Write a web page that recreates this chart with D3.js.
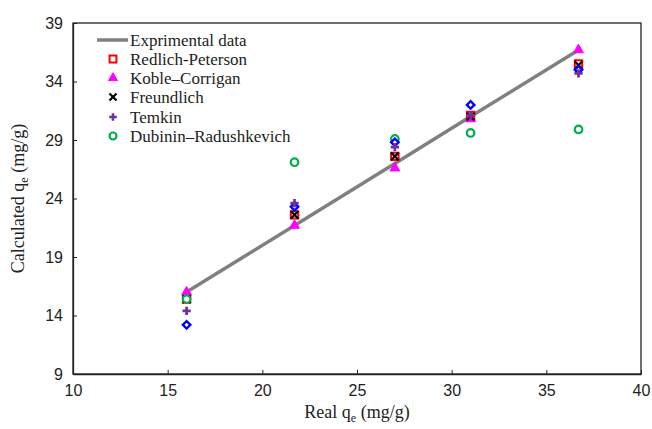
<!DOCTYPE html>
<html><head><meta charset="utf-8">
<script src="https://cdn.jsdelivr.net/npm/d3@7"></script>
<style>body{margin:0;background:#fff}</style>
</head><body>
<svg id="c" width="652" height="429"></svg>
<script>
const realQe = [16, 21.7, 27, 31, 36.7];
const experimental = [16, 21.7, 27, 31, 36.7];
const redlichPeterson = [15.4, 22.6, 27.6, 31.1, 35.5];
const kobleCorrigan = [16.0, 21.7, 26.6, 30.8, 36.7];
const freundlich = [15.4, 22.6, 27.6, 31.0, 35.4];
const temkin = [14.4, 23.6, 28.4, 31.1, 34.7];
const dubininRadushkevich = [15.4, 27.1, 29.1, 29.6, 29.9];
const langmuir = [13.2, 23.3, 28.8, 32.0, 35.0];
const xTicks = [10, 15, 20, 25, 30, 35, 40];
const yTicks = [9, 14, 19, 24, 29, 34, 39];
const legendLabels = ["Exprimental data", "Redlich-Peterson", "Koble\u2013Corrigan", "Freundlich", "Temkin", "Dubinin\u2013Radushkevich"];

const svg = d3.select("#c");
const L = 73, R = 641, T = 23, B = 374;
const x = d3.scaleLinear().domain([10, 40]).range([L, R]);
const y = d3.scaleLinear().domain([9, 39]).range([B, T]);

svg.append("rect").attr("x", L).attr("y", T).attr("width", R - L).attr("height", B - T)
  .attr("fill", "none").attr("stroke", "#222").attr("stroke-width", 1.3);

const xAxis = svg.append("g").attr("transform", `translate(0,${B})`)
  .call(d3.axisBottom(x).tickValues(xTicks).tickSizeInner(-4).tickSizeOuter(0).tickPadding(10));
const yAxis = svg.append("g").attr("transform", `translate(${L},0)`)
  .call(d3.axisLeft(y).tickValues(yTicks).tickSizeInner(-4).tickSizeOuter(0).tickPadding(10));
[xAxis, yAxis].forEach(a => {
  a.select(".domain").attr("stroke", "#222").attr("stroke-width", 1.3);
  a.selectAll(".tick line").attr("stroke", "#222");
  a.selectAll("text").attr("font-family", "Liberation Sans, Arial, sans-serif").attr("font-size", 16).attr("fill", "#222");
});
xAxis.selectAll(".tick text").attr("dy", "0.75em");

const xt = svg.append("text").attr("x", (L + R) / 2).attr("y", 418).attr("text-anchor", "middle")
  .attr("font-family", "Liberation Serif, Times New Roman, serif").attr("font-size", 18).attr("fill", "#222");
xt.append("tspan").text("Real q");
xt.append("tspan").text("e").attr("font-size", 12).attr("dy", 4);
xt.append("tspan").text(" (mg/g)").attr("dy", -4);
const yt = svg.append("text").attr("transform", `translate(24,${(T + B) / 2}) rotate(-90)`).attr("text-anchor", "middle")
  .attr("font-family", "Liberation Serif, Times New Roman, serif").attr("font-size", 18).attr("fill", "#222");
yt.append("tspan").text("Calculated q");
yt.append("tspan").text("e").attr("font-size", 12).attr("dy", 4);
yt.append("tspan").text(" (mg/g)").attr("dy", -4);

svg.append("path").datum(realQe.map((v, i) => [v, experimental[i]]))
  .attr("d", d3.line().x(d => x(d[0])).y(d => y(d[1])))
  .attr("fill", "none").attr("stroke", "#808080").attr("stroke-width", 3.5);

const series = {
  rp: {vals: redlichPeterson, type: d3.symbolSquare, size: 55, rot: 0, fill: "#fff", stroke: "#ff0000", sw: 2},
  kc: {vals: kobleCorrigan, type: d3.symbolTriangle, size: 42, rot: 0, fill: "#ff00ff", stroke: "#ff00ff", sw: 1},
  fr: {vals: freundlich, type: d3.symbolX, size: 40, rot: 0, fill: "none", stroke: "#000", sw: 2.2},
  dr: {vals: dubininRadushkevich, type: d3.symbolCircle, size: 45, rot: 0, fill: "#fff", stroke: "#00b050", sw: 2.2},
  la: {vals: langmuir, type: d3.symbolSquare, size: 28, rot: 45, fill: "#fff", stroke: "#0000ff", sw: 2.4},
  te: {vals: temkin, type: d3.symbolCross, size: 38, rot: 0, fill: "#7030a0", stroke: "none", sw: 0}
};
const order = ["rp", "kc", "fr", "dr", "la", "te"];
order.forEach(k => {
  const s = series[k];
  svg.append("g").selectAll("path").data(s.vals).join("path")
    .attr("transform", (d, i) => `translate(${x(realQe[i])},${y(d)}) rotate(${s.rot})`)
    .attr("d", d3.symbol().type(s.type).size(s.size)())
    .attr("fill", s.fill).attr("stroke", s.stroke).attr("stroke-width", s.sw);
});

const lg = svg.append("g");
const rows = [40, 59, 78, 97, 117, 136];
lg.append("line").attr("x1", 97).attr("x2", 128).attr("y1", rows[0]).attr("y2", rows[0])
  .attr("stroke", "#808080").attr("stroke-width", 3.5);
["rp", "kc", "fr", "te", "dr"].forEach((k, i) => {
  const s = series[k];
  lg.append("path").attr("transform", `translate(113,${rows[i + 1]}) rotate(${s.rot})`)
    .attr("d", d3.symbol().type(s.type).size(s.size * 0.85)())
    .attr("fill", s.fill).attr("stroke", s.stroke).attr("stroke-width", s.sw);
});
legendLabels.forEach((t, i) => {
  lg.append("text").attr("x", 130).attr("y", rows[i]).attr("dy", "0.35em").text(t)
    .attr("font-family", "Liberation Serif, Times New Roman, serif").attr("font-size", 17).attr("fill", "#222");
});
</script>
</body></html>
